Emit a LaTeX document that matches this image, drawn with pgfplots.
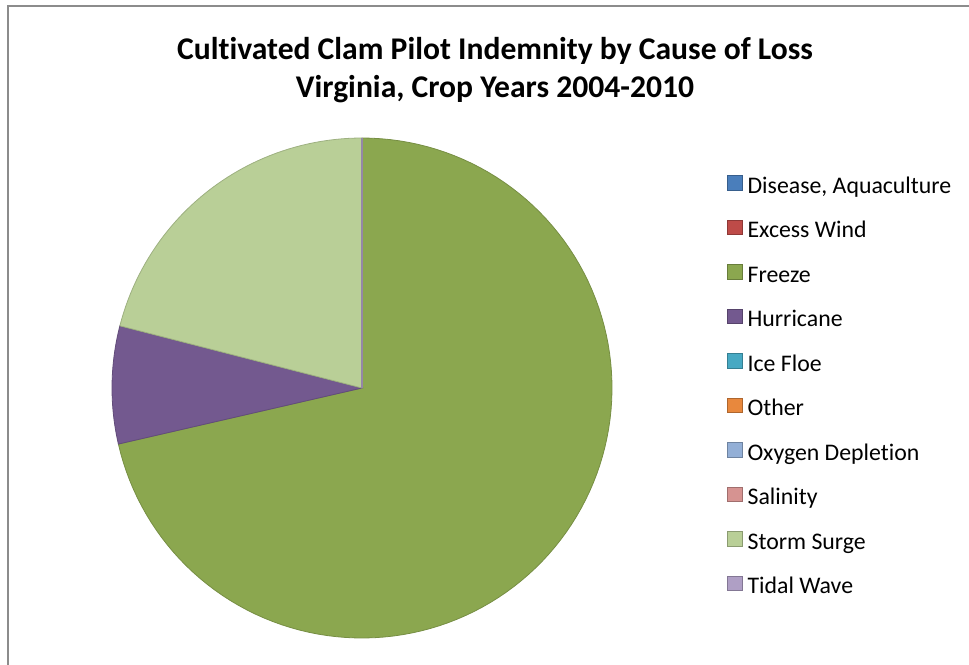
\documentclass[border=0pt]{standalone}
\usepackage{pgfplots}
\pgfplotsset{compat=1.18}
\usepackage{fontspec}
\setmainfont{Carlito}[Ligatures=NoCommon]

\definecolor{cDis}{HTML}{4A7EBB}
\definecolor{cWind}{HTML}{BE4B48}
\definecolor{cFreeze}{HTML}{8BA74F}
\definecolor{cHurr}{HTML}{73598F}
\definecolor{cIce}{HTML}{47A9C3}
\definecolor{cOther}{HTML}{E8883D}
\definecolor{cOxy}{HTML}{93AFD6}
\definecolor{cSal}{HTML}{D69391}
\definecolor{cSurge}{HTML}{B9CF97}
\definecolor{cTidal}{HTML}{AF9FC5}

% share of indemnity, percent (all other causes are 0)
\def\pFreeze{71.4}
\def\pHurr{7.6}
\def\pSurge{21.0}

\begin{document}
\begin{tikzpicture}
\useasboundingbox (0,0) rectangle (484.5pt,-332pt);
\pgfmathsetmacro\aA{90-3.6*\pFreeze}
\pgfmathsetmacro\aB{\aA-3.6*\pHurr}
\pgfmathsetmacro\aC{\aB-3.6*\pSurge}
\begin{axis}[
    at={(181pt,-194pt)}, anchor=center,
    x=125pt, y=125pt,
    xmin=-1, xmax=1, ymin=-1, ymax=1,
    hide axis, clip=false,
    title={Cultivated Clam Pilot Indemnity by Cause of Loss\\Virginia, Crop Years 2004-2010},
    title style={at={(0.766,1.112)}, anchor=center, align=center,
        font=\fontsize{15.8}{19}\selectfont\bfseries},
    legend style={draw=none, fill=none, at={(1.23,0.928)}, anchor=north west,
        font=\fontsize{11.9}{13}\selectfont, inner sep=0pt, row sep=9.25pt, column sep=1.2pt,
        nodes={inner sep=1pt, text height=8.5pt, text depth=2.5pt}},
    legend cell align=left,
    legend image code/.code={\draw[#1, line width=0.5pt] (0pt,-1.5pt) rectangle (7.4pt,5.9pt);},
]
\addlegendimage{fill=cDis, draw=cDis!75!black}
\addlegendimage{fill=cWind, draw=cWind!75!black}
\addlegendimage{fill=cFreeze, draw=cFreeze!75!black}
\addlegendimage{fill=cHurr, draw=cHurr!75!black}
\addlegendimage{fill=cIce, draw=cIce!75!black}
\addlegendimage{fill=cOther, draw=cOther!75!black}
\addlegendimage{fill=cOxy, draw=cOxy!75!black}
\addlegendimage{fill=cSal, draw=cSal!75!black}
\addlegendimage{fill=cSurge, draw=cSurge!75!black}
\addlegendimage{fill=cTidal, draw=cTidal!75!black}

\addplot[forget plot, fill=cFreeze, draw=cFreeze!85!black, line width=0.4pt,
    domain=\aA:90, samples=120, variable=\t] ({cos(\t)},{sin(\t)}) -- (axis cs:0,0) -- cycle;
\addplot[forget plot, fill=cHurr, draw=cHurr!85!black, line width=0.4pt,
    domain=\aB:\aA, samples=20, variable=\t] ({cos(\t)},{sin(\t)}) -- (axis cs:0,0) -- cycle;
\addplot[forget plot, fill=cSurge, draw=cSurge!85!black, line width=0.4pt,
    domain=\aC:\aB, samples=50, variable=\t] ({cos(\t)},{sin(\t)}) -- (axis cs:0,0) -- cycle;
% zero-valued Tidal Wave slice leaves only its edge
\addplot[forget plot, draw=cTidal!85!black, line width=0.6pt] coordinates {(0,0) (0,1)};

\legend{{Disease, Aquaculture},Excess Wind,Freeze,Hurricane,Ice Floe,Other,Oxygen Depletion,Salinity,Storm Surge,Tidal Wave}
\end{axis}
\draw[color=black!45, line width=1pt] (4.2pt,-3pt) rectangle (495pt,-345pt);
\end{tikzpicture}
\end{document}
